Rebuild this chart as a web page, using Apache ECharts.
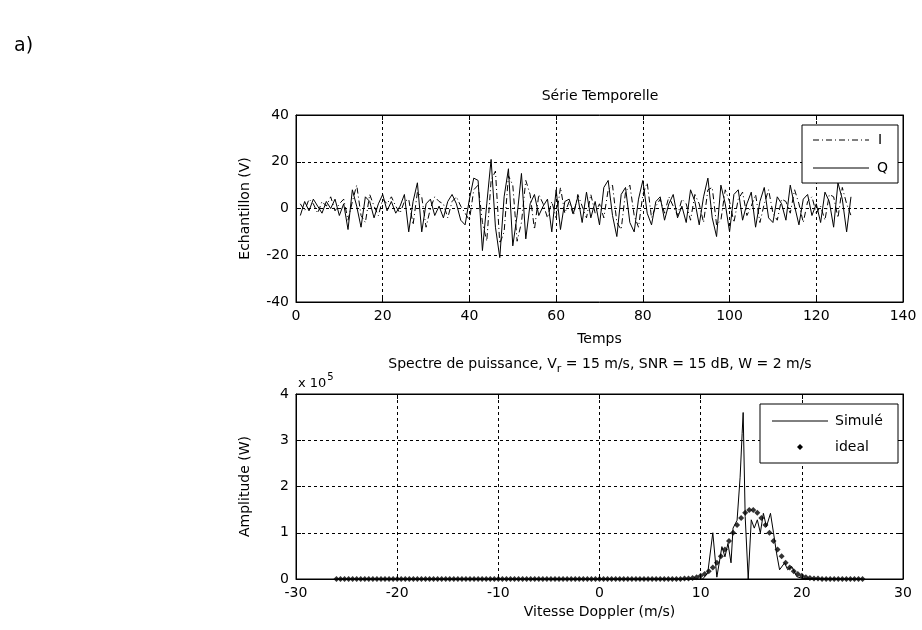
<!DOCTYPE html>
<html><head><meta charset="utf-8">
<script src="https://cdn.jsdelivr.net/npm/echarts@6/dist/echarts.min.js"></script>
<style>html,body{margin:0;padding:0;background:#fff}#c{width:922px;height:630px}</style>
</head><body><div id="c"></div>
<script>
// ---- Série temporelle (échantillons 1..128) ----
const qSamples = [
 -3, 3, -1, 4, 1, -2, 3, 0, 4, -3,
  2, -9, 8, 1, -8, 5, 3, -4, 2, 6,
 -1, 3, -2, 1, 6, -10, 3, 11, -10, 2,
  4, -3, 1, -4, 3, 6, 2, -5, -7, 4,
 13, 12, -18, 2, 21, -8, -21, 5, 17, -16,
 -3, 15, -13, 2, 6, -3, 1, 4, -10, 8,
 -9, 3, 4, -2, 5, -6, 7, -4, 3, -7,
  9, 12, -3, -12, 6, 9, -6, -10, 4, 12,
 -2, -7, 3, 5, -5, 2, 6, -4, 1, -6,
  8, 3, -7, 5, 13, -4, -12, 10, 2, -10,
  6, 8, -5, 2, 7, -8, 3, 9, -4, -6,
  5, 2, -5, 10, 1, -7, 4, 6, -3, 2,
 -6, 7, 3, -8, 11, 4, -10, 5
];
const iSamples = [
  2, -1, 4, 2, -2, 3, 1, 5, -1, 2,
  4, -5, 3, 10, -3, -6, 6, 1, -3, 4,
  2, 5, 1, -2, 3, 4, -7, 7, 5, -8,
  0, 5, 3, 2, -4, 3, 5, 1, -2, -5,
  8, 10, -6, -14, 12, 16, -15, -10, 14, 10,
 -14, -6, 12, 6, -9, 6, 2, -4, 3, -4,
  9, -2, 3, -3, 6, 1, -4, 6, -2, 2,
 -4, 8, 10, -6, -9, 7, 10, -3, -8, 6,
 11, -4, 1, 4, -2, 5, 1, -3, 4, 2,
 -5, 6, 2, -6, 8, 9, -7, -5, 8, 3,
 -6, 4, 7, -3, 1, 6, -6, 2, 8, -2,
 -5, 4, 3, -2, 8, 2, -6, 3, 5, -2,
  1, -5, 6, 5, -4, 9, 2, -3
];

// ---- Spectre de puissance (x 10^5 W) ----
const simVel = [-26, 10.2, 10.7, 11.2, 11.6, 12.1, 12.4, 12.7, 13.0, 13.2, 13.6, 13.9, 14.1, 14.2, 14.4, 14.7,
  15.0, 15.3, 15.6, 15.9, 16.2, 16.5, 16.9, 17.2, 17.5, 17.8, 18.3, 18.6, 19.0, 19.5, 20.1, 26];
const simAmp = [0, 0, 0.13, 1.0, 0.04, 0.7, 0.48, 0.77, 0.35, 1.1, 1.27, 2.2, 3.15, 3.6, 1.35, 0,
  1.28, 1.1, 1.28, 1.0, 1.42, 1.13, 1.42, 1.0, 0.56, 0.2, 0.35, 0.2, 0.27, 0.05, 0.01, 0];

const idealVel = [
 -26,-25.6,-25.2,-24.8,-24.4,-24,-23.6,-23.2,-22.8,-22.4,
 -22,-21.6,-21.2,-20.8,-20.4,-20,-19.6,-19.2,-18.8,-18.4,
 -18,-17.6,-17.2,-16.8,-16.4,-16,-15.6,-15.2,-14.8,-14.4,
 -14,-13.6,-13.2,-12.8,-12.4,-12,-11.6,-11.2,-10.8,-10.4,
 -10,-9.6,-9.2,-8.8,-8.4,-8,-7.6,-7.2,-6.8,-6.4,
 -6,-5.6,-5.2,-4.8,-4.4,-4,-3.6,-3.2,-2.8,-2.4,
 -2,-1.6,-1.2,-0.8,-0.4,0,0.4,0.8,1.2,1.6,
 2,2.4,2.8,3.2,3.6,4,4.4,4.8,5.2,5.6,
 6,6.4,6.8,7.2,7.6,8,8.4,8.8,9.2,9.6,
 10,10.4,10.8,11.2,11.6,12,12.4,12.8,13.2,13.6,
 14,14.4,14.8,15.2,15.6,16,16.4,16.8,17.2,17.6,
 18,18.4,18.8,19.2,19.6,20,20.4,20.8,21.2,21.6,
 22,22.4,22.8,23.2,23.6,24,24.4,24.8,25.2,25.6,26
];
const idealAmp = [
 0,0,0,0,0,0,0,0,0,0,
 0,0,0,0,0,0,0,0,0,0,
 0,0,0,0,0,0,0,0,0,0,
 0,0,0,0,0,0,0,0,0,0,
 0,0,0,0,0,0,0,0,0,0,
 0,0,0,0,0,0,0,0,0,0,
 0,0,0,0,0,0,0,0,0,0,
 0,0,0,0,0,0,0,0,0,0,
 0,0,0,0,0,0,0.01,0.01,0.02,0.04,
 0.07,0.11,0.17,0.25,0.35,0.49,0.64,0.82,1.00,1.17,
 1.32,1.43,1.49,1.49,1.43,1.32,1.17,1.00,0.82,0.64,
 0.49,0.35,0.25,0.17,0.11,0.07,0.04,0.02,0.01,0.01,
 0,0,0,0,0,0,0,0,0,0,0
];

const topX = {min: 0, max: 140, interval: 20};
const topY = {min: -40, max: 40, interval: 20};
const botX = {min: -30, max: 30, interval: 10};
const botY = {min: 0, max: 4, interval: 1};

const FONT = 'DejaVu Sans';
const FS = 14;
const black = '#000';

function mainAxis(range, gridIndex, extra) {
  return Object.assign({
    type: 'value', gridIndex, min: range.min, max: range.max, interval: range.interval,
    axisLine: {show: true, onZero: false, lineStyle: {color: black, width: 1}},
    axisTick: {show: true, inside: true, length: 5, lineStyle: {color: black}},
    axisLabel: {color: black, fontFamily: FONT, fontSize: FS, margin: 7, showMinLabel: true, showMaxLabel: true},
    splitLine: {show: true, lineStyle: {color: black, width: 1, type: [3, 3]}},
    nameTextStyle: {color: black, fontFamily: FONT, fontSize: FS}
  }, extra || {});
}
function mirrorAxis(range, gridIndex, position) {
  return {
    type: 'value', gridIndex, min: range.min, max: range.max, interval: range.interval, position,
    axisLine: {show: true, onZero: false, lineStyle: {color: black, width: 1}},
    axisTick: {show: true, inside: true, length: 5, lineStyle: {color: black}},
    axisLabel: {show: false}, splitLine: {show: false}
  };
}

const chart = echarts.init(document.getElementById('c'), null, {renderer: 'canvas'});
chart.setOption({
  animation: false,
  backgroundColor: '#fff',
  title: [
    {text: 'a)', left: 14, top: 37, padding: 0, textStyle: {fontFamily: FONT, fontSize: 19, fontWeight: 'normal', color: black}},
    {text: 'Série Temporelle', left: 600, top: 89, padding: 0, textAlign: 'center',
     textStyle: {fontFamily: FONT, fontSize: FS, fontWeight: 'normal', color: black}},
    {text: '{a|Spectre de puissance, V}{s|r}{a| = 15 m/s, SNR = 15 dB, W = 2 m/s}', left: 600, top: 354, padding: 0, textAlign: 'center',
     textStyle: {fontFamily: FONT, fontSize: FS, fontWeight: 'normal', color: black,
       rich: {a: {fontFamily: FONT, fontSize: FS, color: black},
              s: {fontFamily: FONT, fontSize: 11, color: black, padding: [10, 0, 0, 0]}}}}
  ],
  grid: [
    {left: 296, right: 19, top: 115, height: 187, show: true, borderColor: black, borderWidth: 1},
    {left: 296, right: 19, top: 394, height: 185, show: true, borderColor: black, borderWidth: 1}
  ],
  xAxis: [
    mainAxis(topX, 0, {name: 'Temps', nameLocation: 'middle', nameGap: 30}),
    mainAxis(botX, 1, {name: 'Vitesse Doppler (m/s)', nameLocation: 'middle', nameGap: 26}),
    mirrorAxis(topX, 0, 'top'),
    mirrorAxis(botX, 1, 'top')
  ],
  yAxis: [
    mainAxis(topY, 0, {name: 'Echantillon (V)', nameLocation: 'middle', nameGap: 44}),
    mainAxis(botY, 1, {name: 'Amplitude (W)', nameLocation: 'middle', nameGap: 44}),
    mirrorAxis(topY, 0, 'right'),
    mirrorAxis(botY, 1, 'right')
  ],
  series: [
    {name: 'I', type: 'line', xAxisIndex: 0, yAxisIndex: 0, showSymbol: false, symbol: 'none',
     lineStyle: {color: black, width: 1, type: [6, 3, 1, 3]},
     data: iSamples.map((v, k) => [k + 1, v])},
    {name: 'Q', type: 'line', xAxisIndex: 0, yAxisIndex: 0, showSymbol: false, symbol: 'none',
     lineStyle: {color: black, width: 1},
     data: qSamples.map((v, k) => [k + 1, v])},
    {name: 'Simulé', type: 'line', xAxisIndex: 1, yAxisIndex: 1, showSymbol: false, symbol: 'none',
     lineStyle: {color: black, width: 1},
     data: simVel.map((v, k) => [v, simAmp[k]])},
    {name: 'ideal', type: 'scatter', xAxisIndex: 1, yAxisIndex: 1, symbol: 'diamond', symbolSize: 6,
     itemStyle: {color: black},
     data: idealVel.map((v, k) => [v, idealAmp[k]])}
  ],
  graphic: [
    {type: 'text', left: 298, top: 372, z: 100,
     style: {text: '{a|x 10}{b|5}', rich: {a: {fontFamily: FONT, fontSize: 13, fill: black, padding: [6, 0, 0, 0]},
       b: {fontFamily: FONT, fontSize: 10, fill: black, padding: [0, 0, 8, 1]}}}},
    // legend top
    {type: 'rect', z: 100, shape: {x: 802, y: 125, width: 96, height: 58}, style: {fill: '#fff', stroke: black, lineWidth: 1}},
    {type: 'line', z: 101, shape: {x1: 813, y1: 140, x2: 869, y2: 140}, style: {stroke: black, lineWidth: 1, lineDash: [6, 3, 1, 3]}},
    {type: 'text', z: 101, x: 878, y: 140, style: {text: 'I', font: FS + 'px "DejaVu Sans"', fill: black, textVerticalAlign: 'middle'}},
    {type: 'line', z: 101, shape: {x1: 813, y1: 168, x2: 869, y2: 168}, style: {stroke: black, lineWidth: 1}},
    {type: 'text', z: 101, x: 877, y: 168, style: {text: 'Q', font: FS + 'px "DejaVu Sans"', fill: black, textVerticalAlign: 'middle'}},
    // legend bottom
    {type: 'rect', z: 100, shape: {x: 760, y: 404, width: 138, height: 59}, style: {fill: '#fff', stroke: black, lineWidth: 1}},
    {type: 'line', z: 101, shape: {x1: 772, y1: 421, x2: 828, y2: 421}, style: {stroke: black, lineWidth: 1}},
    {type: 'text', z: 101, x: 835, y: 421, style: {text: 'Simulé', font: FS + 'px "DejaVu Sans"', fill: black, textVerticalAlign: 'middle'}},
    {type: 'polygon', z: 101, shape: {points: [[800, 444], [803, 447], [800, 450], [797, 447]]}, style: {fill: black}},
    {type: 'text', z: 101, x: 835, y: 447, style: {text: 'ideal', font: FS + 'px "DejaVu Sans"', fill: black, textVerticalAlign: 'middle'}}
  ]
});
</script>
</body></html>
